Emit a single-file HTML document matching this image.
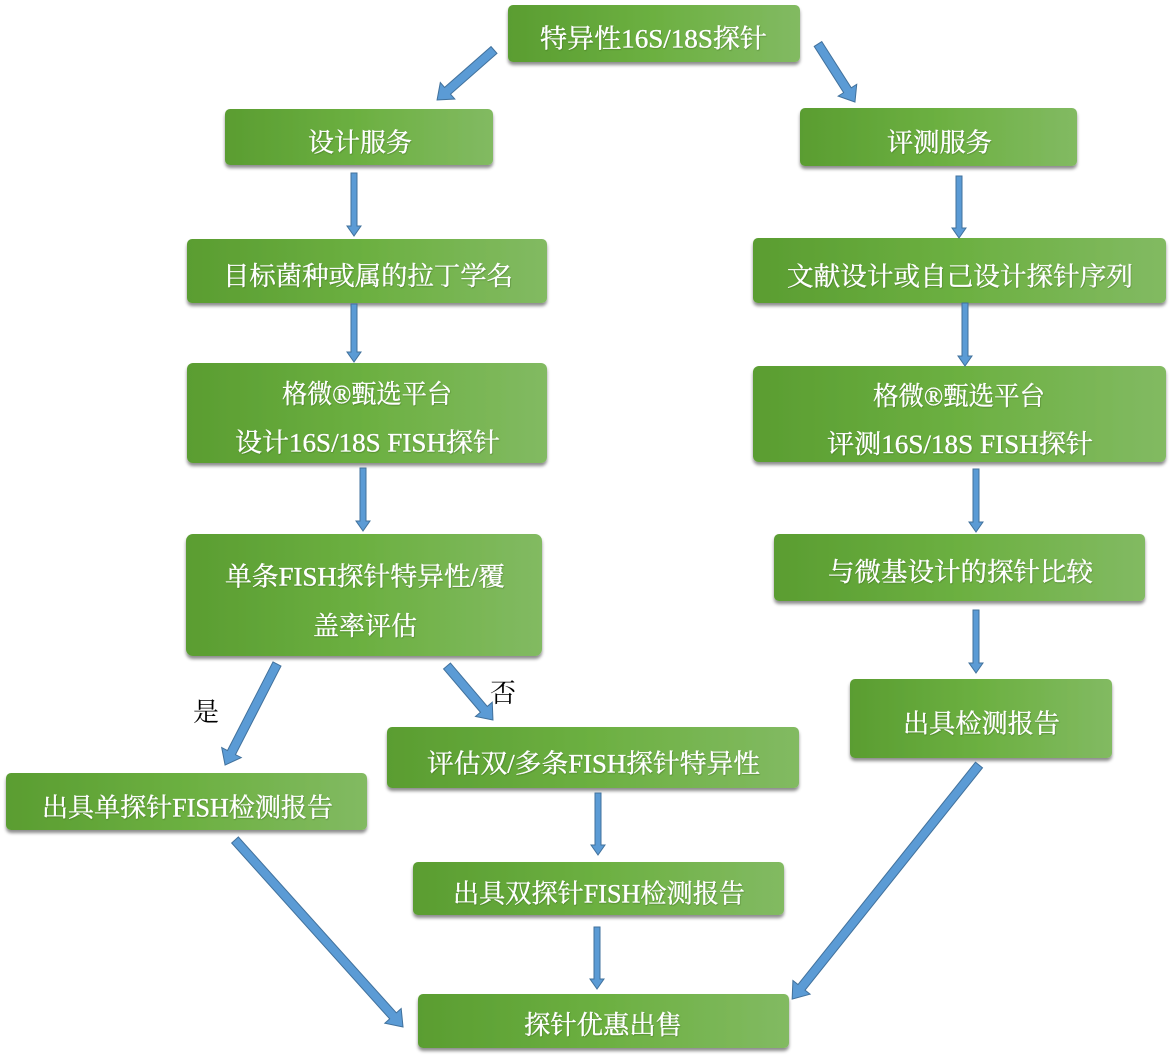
<!DOCTYPE html>
<html><head><meta charset="utf-8"><style>
html,body{margin:0;padding:0;background:#fff;}
svg{display:block;}
text{font-family:"Liberation Serif","Noto Serif CJK SC",serif;}
.t{fill:#fff;font-size:26px;stroke:#fff;stroke-width:0.35;}
.l{fill:#000;font-size:26px;}
.a{fill:#5b9bd5;stroke:#41719c;stroke-width:1;}
</style></head><body>
<svg width="1172" height="1058" viewBox="0 0 1172 1058" xmlns="http://www.w3.org/2000/svg">
<defs>
<linearGradient id="g" x1="0" y1="0" x2="1" y2="0">
<stop offset="0" stop-color="#5a9d31"/>
<stop offset="0.5" stop-color="#6cb041"/>
<stop offset="1" stop-color="#82ba62"/>
</linearGradient>
<filter id="s" x="-5%" y="-10%" width="110%" height="130%">
<feDropShadow dx="0" dy="3" stdDeviation="1.6" flood-color="#000" flood-opacity="0.45"/>
</filter>
<filter id="ts" x="-5%" y="-20%" width="110%" height="140%">
<feDropShadow dx="0.5" dy="0.8" stdDeviation="0.5" flood-color="#2d5a18" flood-opacity="0.5"/>
</filter>
</defs>

<!-- boxes -->
<g filter="url(#s)" fill="url(#g)">
<rect x="508" y="5" width="292" height="57" rx="5"/>
<rect x="225" y="109" width="268" height="56" rx="5"/>
<rect x="800" y="108" width="277" height="58" rx="5"/>
<rect x="187" y="239" width="360" height="64" rx="5"/>
<rect x="753" y="238" width="413" height="65" rx="5"/>
<rect x="187" y="363" width="360" height="100" rx="6"/>
<rect x="753" y="366" width="413" height="96" rx="6"/>
<rect x="186" y="534" width="356" height="122" rx="7"/>
<rect x="774" y="534" width="371" height="67" rx="5"/>
<rect x="850" y="679" width="262" height="79" rx="5"/>
<rect x="6" y="773" width="361" height="57" rx="5"/>
<rect x="387" y="727" width="412" height="61" rx="5"/>
<rect x="413" y="862" width="371" height="53" rx="5"/>
<rect x="418" y="994" width="371" height="54" rx="5"/>
</g>

<!-- box text -->
<g class="t" text-anchor="middle" filter="url(#ts)">
<text class="t" x="653.5" y="47.5" textLength="227" lengthAdjust="spacingAndGlyphs">特异性16S/18S探针</text>
<text class="t" x="360" y="151.5" textLength="104" lengthAdjust="spacingAndGlyphs">设计服务</text>
<text class="t" x="939.5" y="151.5" textLength="105" lengthAdjust="spacingAndGlyphs">评测服务</text>
<text class="t" x="368" y="285" textLength="290" lengthAdjust="spacingAndGlyphs">目标菌种或属的拉丁学名</text>
<text class="t" x="960" y="285.5" textLength="346" lengthAdjust="spacingAndGlyphs">文献设计或自己设计探针序列</text>
<text class="t" x="367" y="403" textLength="170" lengthAdjust="spacingAndGlyphs">格微®甄选平台</text>
<text class="t" x="367.5" y="451.5" textLength="265" lengthAdjust="spacingAndGlyphs">设计16S/18S FISH探针</text>
<text class="t" x="959" y="405" textLength="172" lengthAdjust="spacingAndGlyphs">格微®甄选平台</text>
<text class="t" x="960" y="453" textLength="266" lengthAdjust="spacingAndGlyphs">评测16S/18S FISH探针</text>
<text class="t" x="365" y="585.5" textLength="280" lengthAdjust="spacingAndGlyphs">单条FISH探针特异性/覆</text>
<text class="t" x="365" y="635" textLength="104" lengthAdjust="spacingAndGlyphs">盖率评估</text>
<text class="t" x="960.5" y="581" textLength="265" lengthAdjust="spacingAndGlyphs">与微基设计的探针比较</text>
<text class="t" x="981.5" y="732.5" textLength="157" lengthAdjust="spacingAndGlyphs">出具检测报告</text>
<text class="t" x="187.5" y="816.5" textLength="291" lengthAdjust="spacingAndGlyphs">出具单探针FISH检测报告</text>
<text class="t" x="593.5" y="772.5" textLength="333" lengthAdjust="spacingAndGlyphs">评估双/多条FISH探针特异性</text>
<text class="t" x="599" y="902.5" textLength="292" lengthAdjust="spacingAndGlyphs">出具双探针FISH检测报告</text>
<text class="t" x="603" y="1034" textLength="158" lengthAdjust="spacingAndGlyphs">探针优惠出售</text>
</g>

<!-- labels -->
<text class="l" x="206" y="721" text-anchor="middle">是</text>
<text class="l" x="503" y="702" text-anchor="middle">否</text>

<!-- vertical arrows -->
<g class="a">
<polygon points="351,173 357,173 357,226 361,226 354,236 347,226 351,226"/>
<polygon points="351,304 357,304 357,352 361,352 354,362 347,352 351,352"/>
<polygon points="360,468 366,468 366,521 370,521 363,531 356,521 360,521"/>
<polygon points="956,176 962,176 962,228 966,228 959,238 952,228 956,228"/>
<polygon points="962,303 968,303 968,356 972,356 965,366 958,356 962,356"/>
<polygon points="973,469 979,469 979,522 983,522 976,532 969,522 973,522"/>
<polygon points="973,610 979,610 979,663 983,663 976,673 969,663 973,663"/>
<polygon points="595,793 601,793 601,845 605,845 598,855 591,845 595,845"/>
<polygon points="594,927 600,927 600,979 604,979 597,989 590,979 594,979"/>
</g>

<!-- diagonal arrows -->
<g class="a">
<polygon transform="translate(494,50) rotate(138.7)" points="0,-4.5 61.8,-4.5 61.8,-11 75.8,0 61.8,11 61.8,4.5 0,4.5"/>
<polygon transform="translate(818,44) rotate(57.5)" points="0,-4.5 54.8,-4.5 54.8,-11 68.8,0 54.8,11 54.8,4.5 0,4.5"/>
<polygon transform="translate(277,664) rotate(117.2)" points="0,-4.5 99.6,-4.5 99.6,-11 113.6,0 99.6,11 99.6,4.5 0,4.5"/>
<polygon transform="translate(447,666) rotate(49.6)" points="0,-4.5 56.9,-4.5 56.9,-11 70.9,0 56.9,11 56.9,4.5 0,4.5"/>
<polygon transform="translate(235,840) rotate(48.06)" points="0,-4.5 236.4,-4.5 236.4,-11 251.4,0 236.4,11 236.4,4.5 0,4.5"/>
<polygon transform="translate(979,765) rotate(128.6)" points="0,-4.5 284.5,-4.5 284.5,-11 299.5,0 284.5,11 284.5,4.5 0,4.5"/>
</g>
</svg>
</body></html>
